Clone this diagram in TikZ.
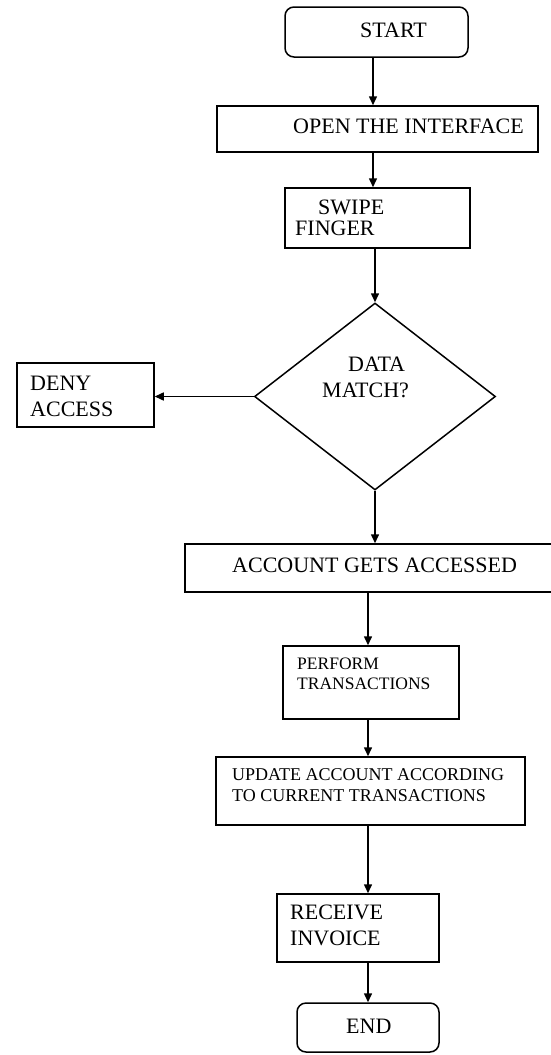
\documentclass[tikz,border=0pt]{standalone}
\usepackage{fontspec}
\setmainfont{Liberation Serif}
\usetikzlibrary{arrows.meta,shapes.geometric}
\begin{document}
\begin{tikzpicture}[x=1pt,y=-1pt,
  box/.style={draw, line width=1.5pt, inner sep=0pt, rectangle},
  term/.style={box, rounded corners=9pt},
  dec/.style={draw, line width=1.5pt, inner sep=0pt, diamond},
  txt/.style={inner sep=0pt, anchor=north west, align=left, font=\fontsize{22}{26}\selectfont},
  small/.style={font=\fontsize{17.5}{20}\selectfont},
  arr/.style={draw, line width=1.5pt, -{Triangle[length=9pt,width=8pt]}}]
\useasboundingbox (0,0) rectangle (550,1055);

% boxes
\node[term, minimum width=183pt, minimum height=50pt] (start) at (376.5,32) {};
\node[box, minimum width=321pt, minimum height=46pt] (open) at (377.5,129) {};
\node[box, minimum width=185pt, minimum height=60pt] (swipe) at (377.5,218) {};
\node[dec, minimum width=241pt, minimum height=187pt] (match) at (375,396.5) {};
\node[box, minimum width=137pt, minimum height=64pt] (deny) at (85.5,395) {};
\node[box, minimum width=367pt, minimum height=48pt] (acc) at (368.5,568) {};
\node[box, minimum width=176pt, minimum height=73pt] (perf) at (371,682.5) {};
\node[box, minimum width=309pt, minimum height=68pt] (upd) at (370.5,791) {};
\node[box, minimum width=162pt, minimum height=68pt] (recv) at (358,928) {};
\node[term, minimum width=142pt, minimum height=49pt] (end) at (368,1027.5) {};

% texts
\node[txt] (tstart) at (360,23) {START};
\node[txt] (topen) at (293,119) {OPEN THE INTERFACE};
\node[txt, font=\fontsize{22}{21}\selectfont] (tswipe) at (295,200) {\hspace*{23pt}SWIPE\\FINGER};
\node[txt] (tmatch) at (322,357) {\hspace*{26pt}DATA\\MATCH?};
\node[txt] (tdeny) at (30,376) {DENY\\ACCESS};
\node[txt] (tacc) at (232,558) {ACCOUNT GETS ACCESSED};
\node[txt, small] (tperf) at (297,658) {PERFORM\\TRANSACTIONS};
\node[txt, font=\fontsize{18}{21}\selectfont] (tupd) at (232,768) {UPDATE ACCOUNT ACCORDING\\TO CURRENT TRANSACTIONS};
\node[txt] (trecv) at (290,905) {RECEIVE\\INVOICE};
\node[txt] (tend) at (346,1019) {END};

% column coordinates
\coordinate (c1) at (373,0);
\coordinate (c2) at (368,0);

% connectors
\draw[arr] (start.south -| c1) -- (open.north -| c1);
\draw[arr] (open.south -| c1) -- (swipe.north -| c1);
\draw[arr] (swipe.south -| match.north) -- (match.north);
\draw[arr] (match.west) -- (match.west -| deny.east);
\draw[arr] (match.south) -- (acc.north -| match.south);
\draw[arr] (acc.south -| c2) -- (perf.north -| c2);
\draw[arr] (perf.south -| c2) -- (upd.north -| c2);
\draw[arr] (upd.south -| c2) -- (recv.north -| c2);
\draw[arr] (recv.south -| c2) -- (end.north -| c2);
\end{tikzpicture}
\end{document}
